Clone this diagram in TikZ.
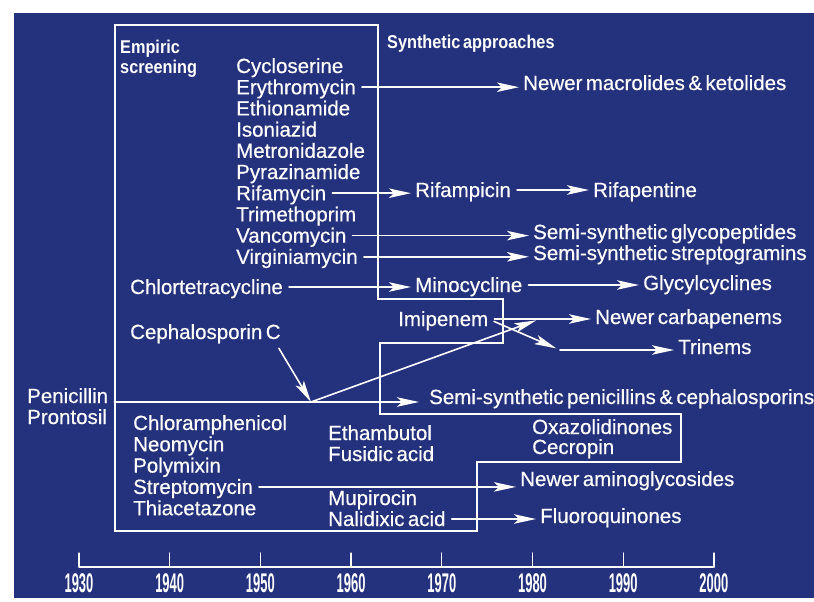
\documentclass[tikz,border=0pt]{standalone}
\usepackage{fontspec}
\setmainfont{Liberation Sans}[WordSpace=0.6,FakeBold=0.5]
\newfontfamily\headfont{Liberation Sans}[FakeStretch=0.88,WordSpace=0.6]
\newfontfamily\yearfont{Liberation Sans}[FakeStretch=0.48]
\usetikzlibrary{arrows.meta}
\definecolor{plate}{HTML}{24317C}

\tikzset{
  drug/.style={anchor=west, inner xsep=0pt, inner ysep=0pt, text height=18pt, text depth=4pt,
    text=white, font=\fontsize{20.5}{24}\selectfont},
  head/.style={drug, font=\headfont\fontsize{18.5}{22}\selectfont\bfseries},
  link/.style={draw=white, line width=1.6pt, shorten <=6pt, shorten >=4pt,
    -{Stealth[length=22pt,width=9.5pt,inset=5pt]}},
  wall/.style={draw=white, line width=2.2pt, line join=miter},
  yearlabel/.style={text=white, inner sep=0pt, font=\yearfont\fontsize{27}{30}\selectfont\bfseries}
}

\begin{document}
\begin{tikzpicture}[x=1pt, y=-1pt, line cap=round, line join=round]
  \useasboundingbox (0,0) rectangle (814,602);
  \fill[white] (0,0) rectangle (814,602);
  \fill[plate] (14,13) rectangle (814,598);

  % outline between empiric and synthetic eras
  \draw[wall] (115,25) -- (378,25) -- (378,299) -- (503,299) -- (503,343) -- (380,343) -- (380,414)
    -- (681,414) -- (681,462) -- (477,462) -- (477,531) -- (115,531) -- cycle;

  % headings
  \node[head] (emp) at (120,47) {Empiric};
  \node[head] (scr) at (120,67) {screening};
  \node[head] (syn) at (387,42) {Synthetic approaches};

  % empiric screening
  \foreach \t [count=\i] in {Cycloserine, Erythromycin, Ethionamide, Isoniazid, Metronidazole,
      Pyrazinamide, Rifamycin, Trimethoprim, Vancomycin, Virginiamycin}
    \node[drug] (e\i) at (236,{66+21.2*(\i-1)}) {\t};
  \node[drug] (chlor) at (130,287) {Chlortetracycline};
  \node[drug] (ceph) at (130,332) {Cephalosporin C};
  \node[drug] (pen) at (27,396) {Penicillin};
  \node[drug] (pron) at (27,417) {Prontosil};
  \foreach \t [count=\i] in {Chloramphenicol, Neomycin, Polymixin, Streptomycin, Thiacetazone}
    \node[drug] (f\i) at (133,{423+21.3*(\i-1)}) {\t};
  \node[drug] (etha) at (328,433) {Ethambutol};
  \node[drug] (fus) at (328,454) {Fusidic acid};
  \node[drug] (mup) at (328,498) {Mupirocin};
  \node[drug] (nal) at (328,519) {Nalidixic acid};
  \node[drug] (imi) at (398,319) {Imipenem};
  \node[drug] (oxa) at (532,427) {Oxazolidinones};
  \node[drug] (cec) at (532,447) {Cecropin};

  % synthetic approaches
  \node[drug] (macro) at (523,83) {Newer macrolides \& ketolides};
  \node[drug] (rifam) at (415,190) {Rifampicin};
  \node[drug] (rifap) at (593,190) {Rifapentine};
  \node[drug] (glyco) at (533,232) {Semi-synthetic glycopeptides};
  \node[drug] (strep) at (533,253) {Semi-synthetic streptogramins};
  \node[drug] (mino) at (415,285) {Minocycline};
  \node[drug] (glycyl) at (643,283) {Glycylcyclines};
  \node[drug] (carba) at (595,317) {Newer carbapenems};
  \node[drug] (trin) at (678,347) {Trinems};
  \node[drug] (sspen) at (429,397) {Semi-synthetic penicillins \& cephalosporins};
  \node[drug] (amino) at (520,479) {Newer aminoglycosides};
  \node[drug] (fluoro) at (540,516) {Fluoroquinones};

  % arrows
  \draw[link] (e2.east) -- (e2.east -| macro.west);
  \draw[link] (e7.east) -- (e7.east -| rifam.west);
  \draw[link] (rifam.east) -- (rifam.east -| rifap.west);
  \draw[link] (e9.east) -- (e9.east -| glyco.west);
  \draw[link] (e10.east) -- (e10.east -| strep.west);
  \draw[link] (chlor.east) -- (chlor.east -| mino.west);
  \draw[link] (mino.east) -- (mino.east -| glycyl.west);
  \draw[link] (imi.east) -- (imi.east -| carba.west);
  \coordinate (bend) at (560,350);
  \draw[link] (imi.east) -- (bend);
  \draw[link, shorten <=0pt] (bend) -- (bend -| trin.west);
  \coordinate (split) at (311,402);
  \coordinate (merge) at (540,319);
  \draw[link, shorten >=0pt] ([xshift=-5pt]ceph.south east) -- (split);
  \draw[link, shorten <=0pt] (split) -- (merge);
  \draw[link, shorten >=10pt] (pen.east |- split) -- (split -| sspen.west);
  \draw[link] (f4.east) -- (f4.east -| amino.west);
  \draw[link] (nal.east) -- (nal.east -| fluoro.west);

  % time axis
  \draw[white, line width=1.3pt] (79,567) -- (714,567);
  \foreach \yr [count=\i from 0] in {1930,1940,...,2000} {
    \draw[white, line width=1.3pt] ({79+90.7*\i},567) -- ({79+90.7*\i},553);
    \node[yearlabel] (y\yr) at ({79+90.7*\i},583) {\yr};
  }
\end{tikzpicture}
\end{document}
